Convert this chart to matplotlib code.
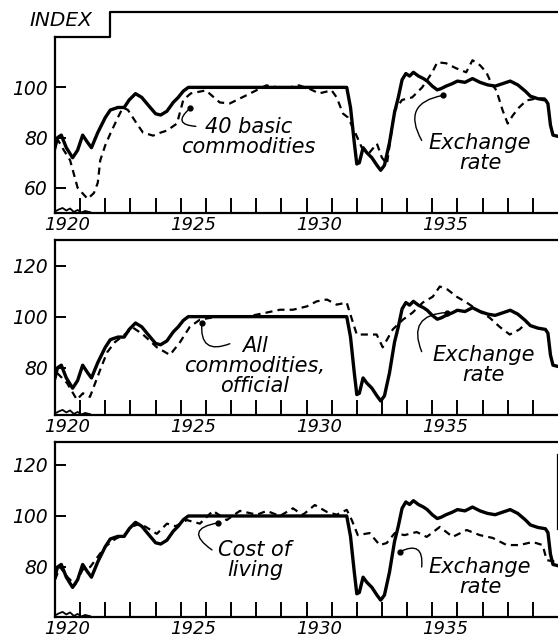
import numpy as np
import matplotlib.pyplot as plt

# exchange rate (same series in every panel)
exch_years = [1920.0, 1920.1, 1920.25, 1920.45, 1920.7, 1920.9, 1921.1, 1921.3, 1921.45, 1921.7,
              1922.0, 1922.2, 1922.5, 1922.75, 1922.95, 1923.2, 1923.45, 1923.7, 1924.0, 1924.2,
              1924.45, 1924.7, 1924.9, 1925.1, 1925.3, 1931.6, 1931.75, 1931.9, 1932.0, 1932.1,
              1932.25, 1932.4, 1932.6, 1932.8, 1932.95, 1933.1, 1933.3, 1933.5, 1933.65, 1933.8,
              1933.95, 1934.1, 1934.25, 1934.45, 1934.65, 1934.8, 1935.0, 1935.2, 1935.35, 1935.55,
              1935.8, 1936.0, 1936.3, 1936.6, 1936.9, 1937.2, 1937.5, 1937.8, 1938.1, 1938.4,
              1938.7, 1938.9, 1939.2, 1939.5, 1939.6, 1939.7, 1939.8, 1940.0]
exch_vals = [76, 80, 81, 76, 72, 75, 81, 78, 76, 82,
             88, 91, 92, 92, 95, 97.5, 96, 93, 89.5, 89,
             90.5, 94, 96, 98.5, 100, 100, 92, 78, 69.5, 70,
             76, 74, 72, 69, 67, 69, 78, 90, 96, 103,
             105.5, 104.5, 106, 104.5, 103.5, 102.5, 100.5, 99, 99.5, 100.5,
             101.5, 102.5, 102, 103.5, 102, 101, 100.5, 101.5, 102.5, 101,
             98.5, 96.5, 95.5, 95, 93.5, 85, 81, 80.5]

# 40 basic commodities
basic_years = [1920.0, 1920.12, 1920.35, 1920.6, 1920.9, 1921.3, 1921.55, 1921.7, 1921.8, 1922.0,
               1922.2, 1922.5, 1922.7, 1922.9, 1923.25, 1923.5, 1923.9, 1924.2, 1924.45, 1924.85,
               1925.1, 1925.4, 1926.0, 1926.55, 1926.95, 1927.6, 1928.4, 1929.1, 1929.7, 1930.1,
               1930.5, 1931.0, 1931.2, 1931.45, 1931.65, 1931.9, 1932.2, 1932.5,
               1932.8, 1933.0, 1933.2, 1933.5, 1933.8, 1934.2, 1934.6, 1935.0, 1935.2, 1935.55,
               1935.95, 1936.35, 1936.6, 1936.9, 1937.15, 1937.35, 1937.55, 1937.8, 1938.0, 1938.2,
               1938.45, 1938.75, 1939.15, 1939.5]
basic_vals = [79, 79, 75, 71, 60, 55.6, 58, 62, 71, 77,
              81.6, 88, 92, 91, 85.6, 82, 80.8, 82, 82.8, 85.6,
              95, 97.6, 98.8, 94, 93.6, 96.8, 100.8, 99.6, 100.8, 99.5,
              97.6, 98.8, 96, 89.6, 88, 82.8, 76, 74,
              77.6, 72, 69.6, 90.8, 95, 96, 100, 106, 110, 109.6,
              107.6, 106, 110.8, 108.8, 106, 101.6, 98.8, 90.8, 85.6, 88.8,
              92, 94.8, 95.6, 95.6]

# all commodities, official
allc_years = [1920.08, 1920.48, 1920.87, 1921.11, 1921.39, 1921.79, 1922.07, 1922.38, 1922.86, 1923.1,
              1923.5, 1924.05, 1924.57, 1924.97, 1925.36, 1925.76, 1926.44, 1926.95, 1927.63, 1928.42,
              1928.94, 1929.46, 1930.01, 1930.41, 1930.81, 1931.2, 1931.6, 1931.72, 1932.0, 1932.4,
              1932.79, 1933.03, 1933.43, 1933.83, 1934.22, 1934.62, 1935.02, 1935.3, 1935.61, 1935.97,
              1936.37, 1936.89, 1937.28, 1937.68, 1938.08, 1938.47, 1938.75]
allc_vals = [78, 74, 67.5, 70, 68.6, 79, 86, 90, 93.7, 95.7,
             93, 88, 85, 90, 96, 98.8, 100, 100, 100, 101.6,
             102.7, 102.7, 104, 106, 106.7, 104.7, 105.5, 101.6, 93, 93,
             93, 88, 95, 98.8, 101.6, 105.5, 107.8, 111.8, 110.6, 107.8,
             105.5, 102, 99.6, 96, 93, 95, 97.6]

# cost of living
cost_years = [1920.0, 1920.2, 1920.5, 1920.8, 1921.1, 1921.4, 1921.7, 1922.0, 1922.4, 1922.8,
              1923.1, 1923.4, 1924.05, 1924.45, 1924.8, 1925.24, 1925.76, 1926.28, 1926.83, 1927.35,
              1928.03, 1928.42, 1928.94, 1929.46, 1929.85, 1930.33, 1930.81, 1931.2, 1931.6, 1931.8,
              1932.04, 1932.51, 1932.91, 1933.19, 1933.51, 1933.9, 1934.38, 1934.78, 1935.3, 1935.81,
              1936.37, 1936.89, 1937.4, 1937.96, 1938.47, 1938.99, 1939.39, 1939.55, 1939.94]
cost_vals = [75, 80, 76, 73, 79, 80, 84, 88, 91, 93,
             96, 97, 93, 97, 96, 98.4, 97, 102, 98.4, 102,
             100.5, 102, 100, 103, 100.4, 104.3, 101.6, 100.5, 102.4, 98.4,
             92.5, 93.3, 88.6, 89.4, 93.3, 92.5, 93.7, 91.8, 95.7, 91.8,
             94.5, 92.5, 91.4, 88.6, 88.6, 89.8, 88.6, 82.7, 82]

# little trace along the bottom axis (offset above the axis floor)
trace_years = [1920.0, 1920.15, 1920.3, 1920.45, 1920.6, 1920.75, 1920.9, 1921.05, 1921.2, 1921.4]
trace_offs = [0.6, 1.4, 2.0, 1.0, 1.8, 0.4, 1.2, 0.2, 0.8, 0.3]

year_labels = ['1920', '1925', '1930', '1935']
label_pos = [1920.5, 1925.5, 1930.5, 1935.5]

W, H = 558, 642
fig = plt.figure(figsize=(W / 100, H / 100), dpi=100)
plt.rcParams['font.family'] = ['DejaVu Sans']

def axes_px(top, bottom):
    return fig.add_axes([55 / W, 1 - bottom / H, 1 - 55 / W, (bottom - top) / H])

def style(ax, ylim, yticks):
    ax.set_xlim(1920, 1940)
    ax.set_ylim(*ylim)
    ax.set_xticks(range(1921, 1940))
    ax.set_xticks(label_pos, minor=True)
    ax.set_xticklabels([])
    ax.set_xticklabels(year_labels, minor=True, fontstyle='italic', fontsize=13)
    ax.tick_params(axis='x', which='major', direction='in', length=11, width=1.4)
    ax.tick_params(axis='x', which='minor', length=0, pad=2)
    ax.set_yticks(yticks)
    ax.set_yticklabels([str(t) for t in yticks], fontstyle='italic', fontsize=13.5)
    ax.tick_params(axis='y', direction='in', length=8, width=1.4, pad=5)
    for s in ax.spines.values():
        s.set_linewidth(1.6)
    ax.spines['right'].set_visible(False)
    ax.plot(trace_years, [ylim[0] + o for o in trace_offs], color='black', lw=1.3, clip_on=False)

def draw(ax, dyears, dvals):
    ax.plot(exch_years, exch_vals, color='black', lw=2.4, solid_joinstyle='round', zorder=3)
    ax.plot(dyears, dvals, color='black', lw=1.6, linestyle=(0, (3.2, 2.3)), zorder=2)

def label(ax, text, pos, start, dot, rad):
    ax.text(*pos, text, ha='center', va='center', linespacing=1.0,
            fontstyle='italic', fontsize=15)
    ax.annotate('', xy=dot, xytext=start,
                arrowprops=dict(arrowstyle='-', lw=1.0, color='black',
                                connectionstyle=f'arc3,rad={rad}', shrinkA=0, shrinkB=0))
    ax.plot(*dot, 'o', color='black', ms=3.5, zorder=4)

# panel 1
ax1 = axes_px(12, 213)
style(ax1, (50, 130), [60, 80, 100])
draw(ax1, basic_years, basic_vals)
ax1.spines['top'].set_visible(False)
ax1.spines['left'].set_bounds(50, 120)
ax1.plot([1920, 1922.2, 1922.2, 1940], [120, 120, 130, 130], color='black', lw=1.6, clip_on=False)
ax1.text(1920.25, 126.8, 'INDEX', ha='center', va='center', fontstyle='italic', fontsize=14.5)
label(ax1, '40 basic\ncommodities', (1927.7, 80.3), (1925.6, 84.5), (1925.36, 91.6), -1.2)
label(ax1, 'Exchange\nrate', (1936.9, 73.7), (1934.58, 78.9), (1935.42, 96.8), -0.7)

# panel 2
ax2 = axes_px(240, 415)
style(ax2, (61.5, 130), [80, 100, 120])
draw(ax2, allc_years, allc_vals)
label(ax2, 'All\ncommodities,\nofficial', (1927.95, 80.8), (1926.95, 89.4), (1925.84, 97.6), -0.8)
label(ax2, 'Exchange\nrate', (1937.05, 81.2), (1934.58, 86.3), (1935.57, 101.6), -0.7)

# panel 3
ax3 = axes_px(442, 617)
style(ax3, (60.4, 129), [80, 100, 120])
draw(ax3, cost_years, cost_vals)
ax3.spines['right'].set_visible(True)
ax3.spines['right'].set_bounds(95, 124)
label(ax3, 'Cost of\nliving', (1927.95, 82.7), (1926.24, 86.7), (1926.48, 97.3), -1.2)
label(ax3, 'Exchange\nrate', (1936.9, 76.0), (1934.58, 80.0), (1933.7, 85.9), 0.9)

fig.savefig('out.png', dpi=100)
